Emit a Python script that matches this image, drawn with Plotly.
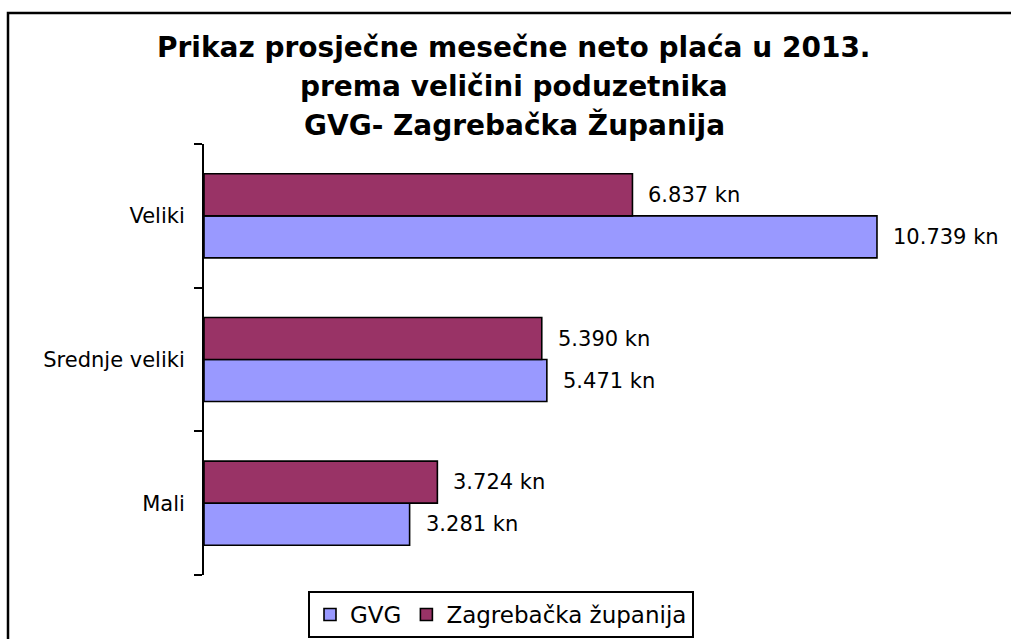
import plotly.graph_objects as go

categories = ["Mali", "Srednje veliki", "Veliki"]
series_names = ["GVG", "Zagrebačka županija"]
gvg_values = [3281, 5471, 10739]
zg_values = [3724, 5390, 6837]
title_lines = [
    "Prikaz prosječne mesečne neto plaća u 2013.",
    "prema veličini poduzetnika",
    "GVG- Zagrebačka Županija",
]
colors = ["#9999FF", "#993366"]

W, H = 1011, 639
L, R, T, B = 204, 55, 144, 64
PW, PH = W - L - R, H - T - B


def px_x(px):
    return (px - L) / PW


def px_y(py):
    return (H - B - py) / PH


def fmt(v):
    return f"{v:,}".replace(",", ".") + " kn"


fig = go.Figure()
for name, vals, col in zip(series_names, [gvg_values, zg_values], colors):
    fig.add_trace(go.Bar(
        y=categories, x=vals, name=name, orientation="h",
        marker=dict(color=col, line=dict(color="black", width=1.6)),
        hoverinfo="skip",
    ))

annotations = []
font_lbl = dict(family="DejaVu Sans", size=21, color="black")
for vals, shift in [(gvg_values, -21), (zg_values, 21)]:
    for c, v in zip(categories, vals):
        annotations.append(dict(
            x=v, y=c, xref="x", yref="y", text=fmt(v), showarrow=False,
            xanchor="left", yanchor="middle", xshift=14, yshift=shift,
            font=font_lbl,
        ))

for line, cy in zip(title_lines, [47, 86, 125]):
    annotations.append(dict(
        x=px_x(514), y=px_y(cy), xref="paper", yref="paper", text=f"<b>{line}</b>",
        showarrow=False, xanchor="center", yanchor="middle",
        font=dict(family="DejaVu Sans", size=28, color="black"),
    ))

fig.update_layout(
    width=W, height=H,
    margin=dict(l=L, r=R, t=T, b=B, autoexpand=False),
    paper_bgcolor="white", plot_bgcolor="white",
    barmode="group", bargap=0.415, bargroupgap=0,
    showlegend=True,
    legend=dict(
        orientation="h", x=px_x(501), xanchor="center", y=px_y(591), yanchor="top",
        bordercolor="black", borderwidth=2, bgcolor="white",
        font=dict(family="DejaVu Sans", size=23, color="black"),
        traceorder="normal", itemwidth=30,
    ),
    xaxis=dict(range=[0, 12000], visible=False, showgrid=False, zeroline=False),
    yaxis=dict(
        range=[-0.5, 2.5], showline=True, linecolor="black", linewidth=2,
        ticks="outside", tickson="boundaries", ticklen=8, tickwidth=2, tickcolor="black",
        tickfont=dict(family="DejaVu Sans", size=21, color="black"),
        ticklabelstandoff=13, showgrid=False, zeroline=False,
    ),
    annotations=annotations,
    shapes=[dict(
        type="rect", xref="paper", yref="paper",
        x0=px_x(8), x1=px_x(1030), y0=px_y(13), y1=px_y(700),
        line=dict(color="black", width=2.5), fillcolor="rgba(0,0,0,0)", layer="below",
    )],
)

fig.write_html("out.html")
